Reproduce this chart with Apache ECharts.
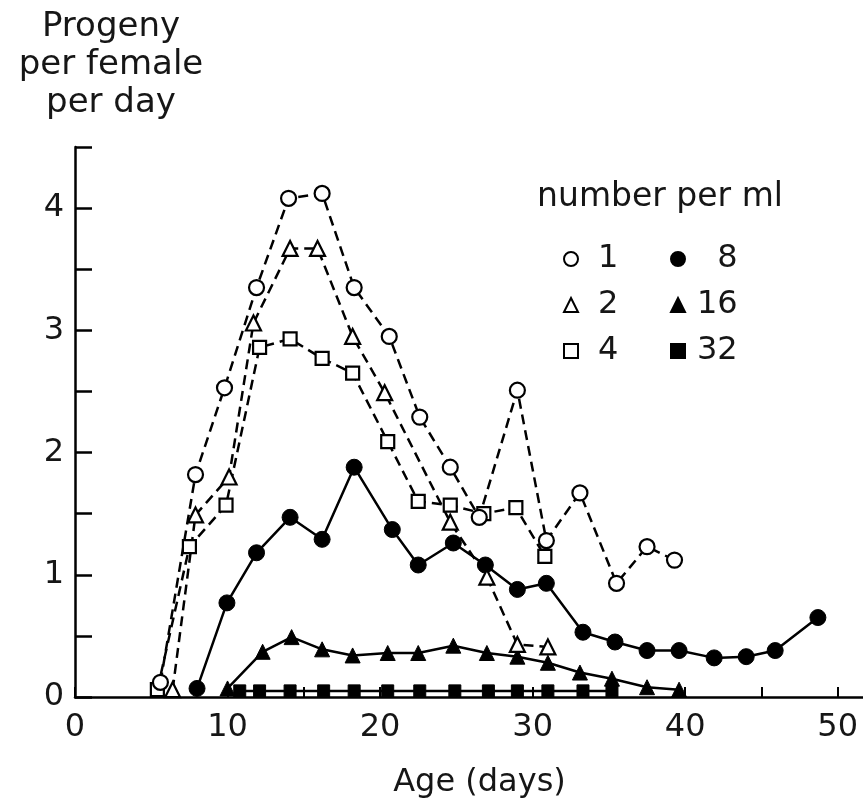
<!DOCTYPE html>
<html>
<head>
<meta charset="utf-8">
<script src="https://cdn.jsdelivr.net/npm/echarts@6/dist/echarts.min.js"></script>
<style>
html,body{margin:0;padding:0;background:#fff;}
#chart{width:863px;height:802px;}
</style>
</head>
<body>
<div id="chart"></div>
<script>
// Age (days) and progeny per female per day, per density (number per ml)
const ages1  = [5.6, 7.9, 9.8, 11.9, 14.0, 16.2, 18.3, 20.6, 22.6, 24.6, 26.5, 29.0, 30.9, 33.1, 35.5, 37.5, 39.3];
const prog1  = [0.12, 1.82, 2.53, 3.35, 4.08, 4.12, 3.35, 2.95, 2.29, 1.88, 1.47, 2.51, 1.28, 1.67, 0.93, 1.23, 1.12];

const ages2  = [6.4, 7.9, 10.1, 11.7, 14.1, 15.9, 18.2, 20.3, 24.6, 27.0, 29.0, 31.0];
const prog2  = [0.06, 1.49, 1.80, 3.06, 3.67, 3.67, 2.95, 2.49, 1.43, 0.98, 0.43, 0.41];

const ages4  = [5.4, 7.5, 9.9, 12.1, 14.1, 16.2, 18.2, 20.5, 22.5, 24.6, 26.8, 28.9, 30.8];
const prog4  = [0.06, 1.23, 1.57, 2.86, 2.93, 2.77, 2.65, 2.09, 1.60, 1.57, 1.50, 1.55, 1.15];

const ages8  = [8.0, 9.96, 11.9, 14.1, 16.2, 18.3, 20.8, 22.5, 24.8, 26.9, 29.0, 30.9, 33.3, 35.4, 37.5, 39.6, 41.9, 44.0, 45.9, 48.7];
const prog8  = [0.07, 0.77, 1.18, 1.47, 1.29, 1.88, 1.37, 1.08, 1.26, 1.08, 0.88, 0.93, 0.53, 0.45, 0.38, 0.38, 0.32, 0.33, 0.38, 0.65];

const ages16 = [10.0, 12.3, 14.2, 16.2, 18.2, 20.5, 22.5, 24.8, 27.0, 29.0, 31.0, 33.1, 35.2, 37.5, 39.6];
const prog16 = [0.07, 0.37, 0.49, 0.39, 0.34, 0.36, 0.36, 0.42, 0.36, 0.33, 0.28, 0.20, 0.15, 0.08, 0.06];

const ages32 = [10.8, 12.1, 14.1, 16.3, 18.3, 20.5, 22.6, 24.9, 27.1, 29.0, 31.0, 33.3, 35.2];
const prog32 = [0.05, 0.05, 0.05, 0.05, 0.05, 0.05, 0.05, 0.05, 0.05, 0.05, 0.05, 0.05, 0.05];

const densityNames = ['1', '2', '4', '8', '16', '32'];
const xTickLabels = [0, 10, 20, 30, 40, 50];
const yTickLabels = [0, 1, 2, 3, 4];

const yTitle = 'Progeny\nper female\nper day';
const xTitle = 'Age (days)';
const legendTitle = 'number per ml';

function pairs(xs, ys) { return xs.map((x, i) => [x, ys[i]]); }

const FONT = 'DejaVu Sans';
const INK = '#161616';

const openSeries = (name, xs, ys, symbol, size) => ({
  name, type: 'line', data: pairs(xs, ys), symbol, symbolSize: size,
  lineStyle: { color: '#000', width: 2.5, type: [10, 6] },
  itemStyle: { color: '#fff', borderColor: '#000', borderWidth: 2.2 },
  z: 3, animation: false
});
const filledSeries = (name, xs, ys, symbol, size) => ({
  name, type: 'line', data: pairs(xs, ys), symbol, symbolSize: size,
  lineStyle: { color: '#000', width: 2.5 },
  itemStyle: { color: '#000', borderColor: '#000', borderWidth: 1 },
  z: 2, animation: false
});

const chart = echarts.init(document.getElementById('chart'), null, { renderer: 'canvas' });
const legendText = {
  fontFamily: FONT, fontSize: 32, color: INK, lineHeight: 32
};
chart.setOption({
  animation: false,
  backgroundColor: '#fff',
  color: ['#000'],
  grid: { left: 75, top: 147, bottom: 105, right: -51, outerBoundsMode: 'none', containLabel: false },
  xAxis: {
    type: 'value', min: 0, max: 55, interval: 5,
    name: xTitle, nameLocation: 'middle', nameGap: 70,
    nameTextStyle: { fontFamily: FONT, fontSize: 32, color: INK, padding: [0, 30, 0, 0] },
    axisLine: { show: true, onZero: false, lineStyle: { color: '#000', width: 2.5 } },
    axisTick: { show: true, inside: true, length: 10, lineStyle: { color: '#000', width: 2 } },
    axisLabel: {
      margin: 15, fontFamily: FONT, fontSize: 32, color: INK,
      formatter: v => (xTickLabels.indexOf(v) >= 0 ? String(v) : '')
    },
    splitLine: { show: false }
  },
  yAxis: {
    type: 'value', min: 0, max: 4.5, interval: 0.5,
    axisLine: { show: true, lineStyle: { color: '#000', width: 2.5 } },
    axisTick: { show: true, inside: true, length: 17, lineStyle: { color: '#000', width: 2.5 } },
    axisLabel: {
      margin: 11, fontFamily: FONT, fontSize: 32, color: INK,
      formatter: v => (yTickLabels.indexOf(v) >= 0 ? String(v) : '')
    },
    splitLine: { show: false }
  },
  legend: [
    {
      orient: 'vertical', left: 563, top: 243, padding: 0, itemGap: 14,
      itemWidth: 14, itemHeight: 14, selectedMode: false,
      data: [
        { name: densityNames[0], icon: 'circle' },
        { name: densityNames[1], icon: 'triangle' },
        { name: densityNames[2], icon: 'rect' }
      ],
      textStyle: Object.assign({ padding: [0, 0, 0, 15] }, legendText)
    },
    {
      orient: 'vertical', left: 670, top: 243, padding: 0, itemGap: 14,
      itemWidth: 14, itemHeight: 14, selectedMode: false,
      data: [
        { name: densityNames[3], icon: 'circle' },
        { name: densityNames[4], icon: 'triangle' },
        { name: densityNames[5], icon: 'rect' }
      ],
      formatter: n => (n.length < 2 ? '\u2007' + n : n),
      textStyle: Object.assign({ padding: [0, 0, 0, 7] }, legendText)
    }
  ],
  graphic: [
    { type: 'text', x: 111, y: 65, silent: true,
      style: { text: yTitle, font: '34px "' + FONT + '"', fill: INK, textAlign: 'center', textVerticalAlign: 'middle', lineHeight: 38 } },
    { type: 'text', x: 660, y: 197, silent: true,
      style: { text: legendTitle, font: '33px "' + FONT + '"', fill: INK, textAlign: 'center', textVerticalAlign: 'middle' } }
  ],
  series: [
    filledSeries(densityNames[5], ages32, prog32, 'rect', 12),
    filledSeries(densityNames[4], ages16, prog16, 'triangle', 15),
    filledSeries(densityNames[3], ages8, prog8, 'circle', 16),
    openSeries(densityNames[2], ages4, prog4, 'rect', 13),
    openSeries(densityNames[1], ages2, prog2, 'triangle', 15),
    openSeries(densityNames[0], ages1, prog1, 'circle', 15)
  ]
});
</script>
</body>
</html>
